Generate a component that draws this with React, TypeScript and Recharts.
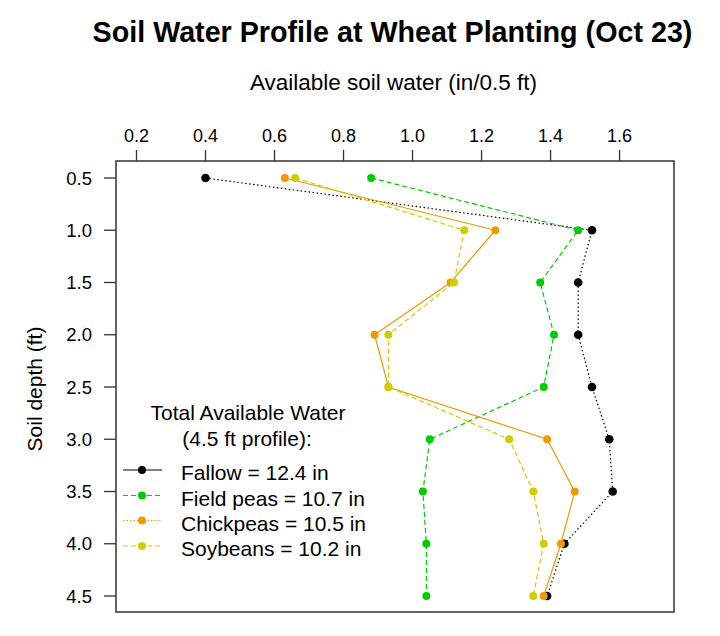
import React from 'react';
import { ScatterChart, Scatter, XAxis, YAxis, ReferenceArea } from 'recharts';

// soil depth (ft) and available water (in/0.5 ft) per crop
const depths = [0.5, 1.0, 1.5, 2.0, 2.5, 3.0, 3.5, 4.0, 4.5];
const fallow = [0.40, 1.52, 1.48, 1.48, 1.52, 1.57, 1.58, 1.44, 1.39];
const fieldPeas = [0.88, 1.48, 1.37, 1.41, 1.38, 1.05, 1.03, 1.04, 1.04];
const chickpeas = [0.63, 1.24, 1.11, 0.89, 0.93, 1.39, 1.47, 1.43, 1.38];
const soybeans = [0.66, 1.15, 1.12, 0.93, 0.93, 1.28, 1.35, 1.38, 1.35];

const xTicks = [0.2, 0.4, 0.6, 0.8, 1.0, 1.2, 1.4, 1.6];
const yTicks = [0.5, 1.0, 1.5, 2.0, 2.5, 3.0, 3.5, 4.0, 4.5];
const legendLabels = ['Fallow = 12.4 in', 'Field peas = 10.7 in', 'Chickpeas = 10.5 in', 'Soybeans = 10.2 in'];

const X_DOMAIN: [number, number] = [0.1406, 1.7577];
const Y_DOMAIN: [number, number] = [0.3375, 4.653];

const FONT = '"Liberation Sans", Arial, sans-serif';

const series = [
  { name: 'Fallow', values: fallow, color: '#000000', dash: '1.5 2.5', legendDash: undefined as string | undefined, r: 4.3 },
  { name: 'Field peas', values: fieldPeas, color: '#00CD00', dash: '5 3', legendDash: '5 3', r: 4 },
  { name: 'Chickpeas', values: chickpeas, color: '#EE9A00', dash: undefined as string | undefined, legendDash: '1.5 2', r: 4 },
  { name: 'Soybeans', values: soybeans, color: '#CDCD00', dash: '5 3', legendDash: '5 3', r: 4 },
];

const toPoints = (vals: number[]) => depths.map((d, i) => ({ depth: d, water: vals[i] }));

// titles, axis labels and the legend drawn on top of the chart
const Overlay = () => {
  const rows = [470, 495.5, 520.5, 546];
  return (
    <svg width={720} height={636} style={{ position: 'absolute', left: 0, top: 0, pointerEvents: 'none' }} fontFamily={FONT}>
      <text x={392.5} y={42} textAnchor="middle" fontSize={28.7} fontWeight="bold" fill="#000">
        Soil Water Profile at Wheat Planting (Oct 23)
      </text>
      <text x={393.5} y={89.5} textAnchor="middle" fontSize={22.5} fill="#000">
        Available soil water (in/0.5 ft)
      </text>
      <text x={34} y={389} textAnchor="middle" dominantBaseline="central" fontSize={21} fill="#000" transform="rotate(-90, 34, 389)">
        Soil depth (ft)
      </text>
      <text x={248} y={412} textAnchor="middle" dominantBaseline="central" fontSize={21} fill="#000">
        Total Available Water
      </text>
      <text x={247} y={438} textAnchor="middle" dominantBaseline="central" fontSize={21} fill="#000">
        (4.5 ft profile):
      </text>
      {series.map((s, i) => (
        <g key={s.name}>
          <line x1={123} x2={162} y1={rows[i]} y2={rows[i]} stroke={s.color} strokeWidth={1.2} strokeDasharray={s.legendDash} />
          <circle cx={142} cy={rows[i]} r={4} fill={s.color} />
          <text x={181} y={rows[i] + 2.5} dominantBaseline="central" fontSize={21} fill="#000">
            {legendLabels[i]}
          </text>
        </g>
      ))}
    </svg>
  );
};

export default function App() {
  return (
    <div style={{ position: 'relative', width: 720, height: 636, background: '#fff', fontFamily: FONT }}>
      <style>{`body{margin:0}`}</style>
      <ScatterChart width={720} height={636} margin={{ top: 110, right: 46, bottom: 24, left: 60 }}>
        <XAxis
          type="number"
          dataKey="water"
          orientation="top"
          height={51}
          domain={X_DOMAIN}
          allowDataOverflow
          ticks={xTicks}
          tickFormatter={(v: number) => v.toFixed(1)}
          axisLine={false}
          tickSize={11}
          tickMargin={8}
          tickLine={{ stroke: '#333', strokeWidth: 1.3 }}
          tick={{ fill: '#000', fontSize: 18, fontFamily: FONT }}
        />
        <YAxis
          type="number"
          dataKey="depth"
          width={56}
          reversed
          domain={Y_DOMAIN}
          allowDataOverflow
          ticks={yTicks}
          tickFormatter={(v: number) => v.toFixed(1)}
          axisLine={false}
          tickSize={12}
          tickMargin={12}
          tickLine={{ stroke: '#333', strokeWidth: 1.3 }}
          tick={{ fill: '#000', fontSize: 18.5, fontFamily: FONT }}
        />
        <ReferenceArea
          x1={X_DOMAIN[0]}
          x2={X_DOMAIN[1]}
          y1={Y_DOMAIN[0]}
          y2={Y_DOMAIN[1]}
          fill="none"
          stroke="#333"
          strokeWidth={1.5}
          fillOpacity={0}
        />
        {series.map(s => (
          <Scatter
            key={s.name}
            name={s.name}
            data={toPoints(s.values)}
            fill={s.color}
            isAnimationActive={false}
            line={{ stroke: s.color, strokeWidth: 1.2, strokeDasharray: s.dash }}
            shape={(p: any) => <circle cx={p.cx} cy={p.cy} r={s.r} fill={s.color} />}
          />
        ))}
      </ScatterChart>
      <Overlay />
    </div>
  );
}
